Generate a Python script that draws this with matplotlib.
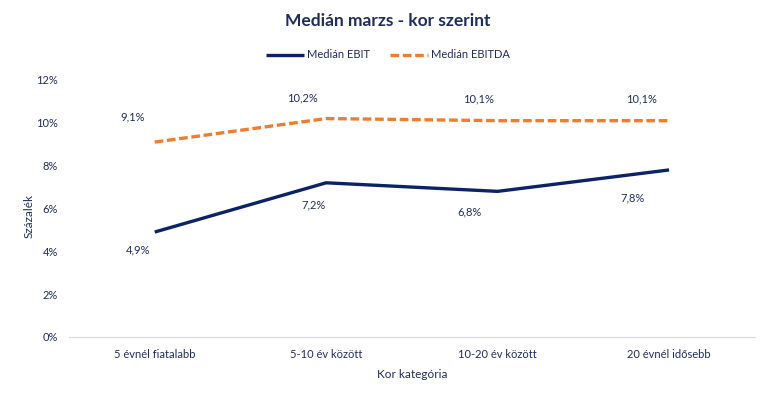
import matplotlib
matplotlib.use("Agg")
import matplotlib.pyplot as plt
from matplotlib.ticker import FuncFormatter

plt.rcParams['font.family'] = ['Lato', 'DejaVu Sans']

categories = ["5 évnél fiatalabb", "5-10 év között", "10-20 év között", "20 évnél idősebb"]
ebit = [4.9, 7.2, 6.8, 7.8]
ebitda = [9.1, 10.2, 10.1, 10.1]

# label offsets in pixels (as placed in the original chart)
ebit_lbl_off = [(-17, -18), (-13, -22), (-28, -21), (-37, -28)]
ebitda_lbl_off = [(-22, 25), (-24, 21), (-19, 22), (-28, 22)]

navy = "#0B2265"
orange = "#ED7D31"
text_col = "#1F2D5A"

fig = plt.figure(figsize=(7.68, 3.98), dpi=100)
ax = fig.add_axes([0.0898, 0.1533, 0.893, 0.6457])

x = range(len(categories))
ax.plot(x, ebit, color=navy, lw=2.4, label="Medián EBIT", solid_capstyle="butt")
ax.plot(x, ebitda, color=orange, lw=2.4, ls=(0, (2.6, 1.1)), label="Medián EBITDA")

for i, v in enumerate(ebit):
    ax.annotate(f"{v:.1f}%".replace(".", ","), (i, v), xytext=ebit_lbl_off[i], textcoords="offset pixels",
                ha="center", va="center", fontsize=8, color=text_col)
for i, v in enumerate(ebitda):
    ax.annotate(f"{v:.1f}%".replace(".", ","), (i, v), xytext=ebitda_lbl_off[i], textcoords="offset pixels",
                ha="center", va="center", fontsize=8, color=text_col)

ax.set_xlim(-0.5, len(categories) - 0.5)
ax.set_ylim(0, 12)
ax.set_yticks([0, 2, 4, 6, 8, 10, 12])
ax.yaxis.set_major_formatter(FuncFormatter(lambda v, p: f"{v:.0f}%"))
ax.set_xticks(list(x))
ax.set_xticklabels(categories)
ax.tick_params(axis="both", length=0, labelsize=8, colors=text_col)
ax.tick_params(axis="x", pad=9)
ax.tick_params(axis="y", pad=8)

for s in ["top", "right", "left"]:
    ax.spines[s].set_visible(False)
ax.spines["bottom"].set_color("#D9D9D9")

ax.set_xlabel("Kor kategória", fontsize=8.5, color=text_col, labelpad=6)
ax.set_ylabel("Százalék", fontsize=8.5, color=text_col)
ax.yaxis.set_label_coords(-0.050, 0.47)

fig.suptitle("Medián marzs - kor szerint", x=0.505, y=0.968, fontsize=12.5, fontweight="bold", color=text_col)
fig.legend(loc="center", bbox_to_anchor=(0.505, 0.862), ncol=2, frameon=False, fontsize=8,
           handlelength=3.4, columnspacing=1.8, handletextpad=0.3, labelcolor=text_col)

fig.savefig("out.png", dpi=100)
